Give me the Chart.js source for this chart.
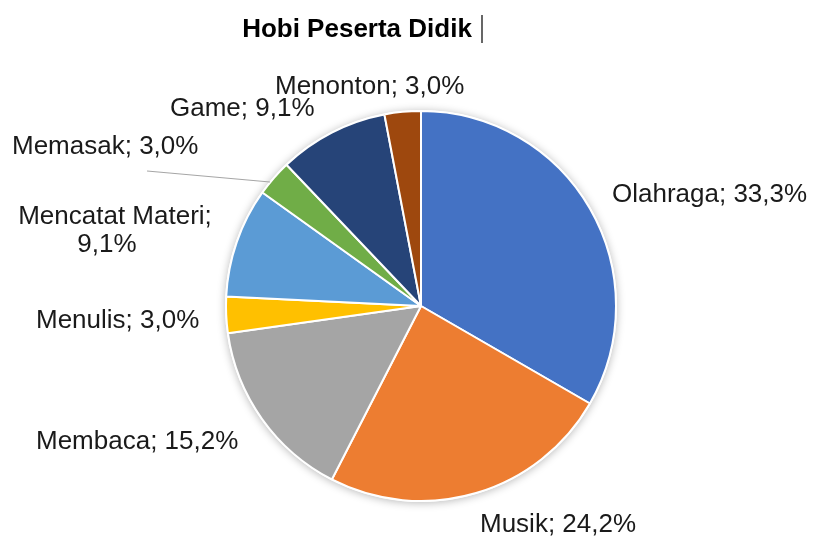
<!DOCTYPE html>
<html>
<head>
<meta charset="utf-8">
<script src="https://cdn.jsdelivr.net/npm/chart.js@4/dist/chart.umd.min.js"></script>
<style>
  html, body { margin: 0; padding: 0; background: #ffffff; }
  #wrap { width: 813px; height: 536px; }
</style>
</head>
<body>
<div id="wrap"><canvas id="c" width="813" height="536"></canvas></div>
<script>
const title = "Hobi Peserta Didik";
const categories = ["Olahraga", "Musik", "Membaca", "Menulis", "Mencatat Materi", "Memasak", "Game", "Menonton"];
const values = [33.3, 24.2, 15.2, 3.0, 9.1, 3.0, 9.1, 3.0];
const colors = ["#4472C4", "#ED7D31", "#A5A5A5", "#FFC000", "#5B9BD5", "#70AD47", "#264478", "#9E480E"];

// label layout (text placement only)
const labelLayout = [
  { lines: [{ x: 612, y: 202, align: "left" }] },
  { lines: [{ x: 480, y: 532, align: "left" }] },
  { lines: [{ x: 36, y: 449, align: "left" }] },
  { lines: [{ x: 36, y: 328, align: "left" }] },
  { split: true, lines: [{ x: 115, y: 224, align: "center" }, { x: 107, y: 252, align: "center" }] },
  { lines: [{ x: 12, y: 154, align: "left" }], leader: [[147, 171], [270, 182]] },
  { lines: [{ x: 170, y: 116, align: "left" }] },
  { lines: [{ x: 275, y: 94, align: "left" }] }
];

function fmt(v) { return v.toFixed(1).replace(".", ",") + "%"; }

const shadowPlugin = {
  id: "pieShadow",
  beforeDatasetsDraw(chart) {
    const arc = chart.getDatasetMeta(0).data[0];
    if (!arc) return;
    const ctx = chart.ctx;
    ctx.save();
    ctx.shadowColor = "rgba(0,0,0,0.28)";
    ctx.shadowBlur = 9;
    ctx.shadowOffsetX = 0;
    ctx.shadowOffsetY = 1;
    ctx.fillStyle = "#ffffff";
    ctx.beginPath();
    ctx.arc(arc.x, arc.y, arc.outerRadius + 1, 0, Math.PI * 2);
    ctx.fill();
    ctx.restore();
  }
};

const labelPlugin = {
  id: "pieLabels",
  afterDraw(chart) {
    const ctx = chart.ctx;
    ctx.save();
    // title
    ctx.font = "bold 26px 'Liberation Sans', Arial, sans-serif";
    ctx.fillStyle = "#000000";
    ctx.textAlign = "center";
    ctx.textBaseline = "alphabetic";
    ctx.fillText(title, 357, 37);
    // cursor mark after title
    ctx.strokeStyle = "#000000";
    ctx.lineWidth = 1.2;
    ctx.beginPath();
    ctx.moveTo(482, 15);
    ctx.lineTo(482, 43);
    ctx.stroke();

    ctx.font = "26px 'Liberation Sans', Arial, sans-serif";
    ctx.fillStyle = "#1a1a1a";
    categories.forEach((cat, i) => {
      const lay = labelLayout[i];
      const texts = lay.split ? [cat + ";", fmt(values[i])] : [cat + "; " + fmt(values[i])];
      texts.forEach((t, j) => {
        const p = lay.lines[j];
        ctx.textAlign = p.align;
        ctx.fillText(t, p.x, p.y);
      });
      if (lay.leader) {
        ctx.strokeStyle = "#a6a6a6";
        ctx.lineWidth = 1.2;
        ctx.beginPath();
        ctx.moveTo(lay.leader[0][0], lay.leader[0][1]);
        ctx.lineTo(lay.leader[1][0], lay.leader[1][1]);
        ctx.stroke();
      }
    });
    ctx.restore();
  }
};

new Chart(document.getElementById("c"), {
  type: "pie",
  data: {
    labels: categories,
    datasets: [{
      data: values,
      backgroundColor: colors,
      borderColor: "#ffffff",
      borderWidth: 2
    }]
  },
  options: {
    responsive: false,
    animation: false,
    layout: { padding: { left: 225, right: 196, top: 110, bottom: 34 } },
    plugins: {
      legend: { display: false },
      title: { display: false },
      tooltip: { enabled: false }
    }
  },
  plugins: [shadowPlugin, labelPlugin]
});
</script>
</body>
</html>
